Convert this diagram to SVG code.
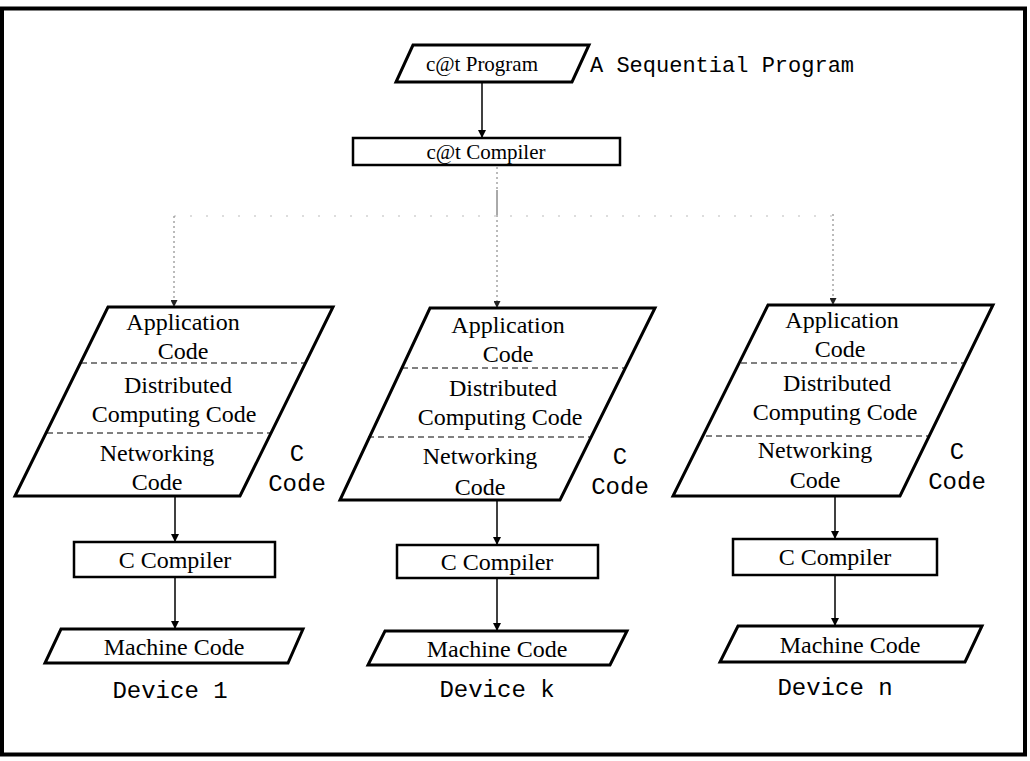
<svg xmlns="http://www.w3.org/2000/svg" width="1030" height="761" viewBox="0 0 1030 761">
  <defs>
    <marker id="arrow" viewBox="0 0 10 10" refX="10" refY="5" markerWidth="8" markerHeight="8" markerUnits="userSpaceOnUse" orient="auto">
      <path d="M0,0 L10,5 L0,10 z" fill="#000"/>
    </marker>
    <marker id="arrowSmall" viewBox="0 0 10 10" refX="10" refY="5" markerWidth="7" markerHeight="7" markerUnits="userSpaceOnUse" orient="auto">
      <path d="M0,0 L10,5 L0,10 z" fill="#222"/>
    </marker>
  </defs>
  <style>
    .frame { fill: none; stroke: #000; stroke-width: 4; }
    .shape { fill: #fff; stroke: #000; stroke-width: 3; stroke-linejoin: miter; }
    .box { fill: #fff; stroke: #000; stroke-width: 2.5; }
    .sep { stroke: #000; stroke-width: 1; stroke-dasharray: 6 4; fill: none; }
    .serif { font-family: "Liberation Serif", "Times New Roman", serif; font-size: 24px; fill: #000; text-anchor: middle; }
    .serif-sm { font-family: "Liberation Serif", "Times New Roman", serif; font-size: 21px; fill: #000; text-anchor: middle; }
    .mono { font-family: "Liberation Mono", "Courier New", monospace; font-size: 24px; fill: #000; }
    .mono-md { font-family: "Liberation Mono", "Courier New", monospace; font-size: 22px; fill: #000; }
    .flow { stroke: #000; stroke-width: 1.5; fill: none; marker-end: url(#arrow); }
    .fan { stroke: #777; stroke-width: 1; stroke-dasharray: 2 3; fill: none; }
    .fan-arrow { stroke: #777; stroke-width: 1; stroke-dasharray: 2 3; fill: none; marker-end: url(#arrowSmall); }
    .fan-faint { stroke: #bbb; stroke-width: 1; stroke-dasharray: 2 14; fill: none; }
  </style>

  <!-- outer frame -->
  <rect class="frame" x="2" y="8.5" width="1023" height="746"/>

  <!-- connectors -->
  <g id="connectors">
    <line class="flow" x1="482" y1="82" x2="482" y2="138"/>
    <!-- fan-out from the c@t compiler to each device -->
    <line class="fan" x1="497" y1="167" x2="497" y2="190"/>
    <line x1="497" y1="190" x2="497" y2="215" stroke="#555" stroke-width="1"/>
    <line class="fan-faint" x1="174" y1="216" x2="833" y2="216"/>
    <line class="fan-arrow" x1="497" y1="215" x2="497" y2="308"/>
    <line class="fan-arrow" x1="174" y1="216" x2="174" y2="307"/>
    <line class="fan-arrow" x1="833" y1="214" x2="833" y2="305"/>
    <!-- device 1 -->
    <line class="flow" x1="175" y1="497" x2="175" y2="542"/>
    <line class="flow" x1="175" y1="577" x2="175" y2="629"/>
    <!-- device k -->
    <line class="flow" x1="497" y1="500" x2="497" y2="545"/>
    <line class="flow" x1="497" y1="578" x2="497" y2="631"/>
    <!-- device n -->
    <line class="flow" x1="835" y1="497" x2="835" y2="539"/>
    <line class="flow" x1="835" y1="575" x2="835" y2="626"/>
  </g>

  <!-- source program -->
  <g id="cat-program">
    <polygon class="shape" points="413,45 589,45 572,82 396,82"/>
    <text class="serif-sm" x="482" y="71">c@t Program</text>
    <text class="mono-md" x="590" y="72" text-anchor="start">A Sequential Program</text>
  </g>

  <g id="cat-compiler">
    <rect class="box" x="353" y="138" width="267" height="27"/>
    <text class="serif-sm" x="486" y="159">c@t Compiler</text>
  </g>

  <!-- Device 1 -->
  <g id="device1-code">
    <polygon class="shape" points="108,307 333,307 240,496 15,496"/>
    <line class="sep" x1="81" y1="363" x2="305" y2="363"/>
    <line class="sep" x1="47" y1="433" x2="271" y2="433"/>
    <text class="serif" x="183" y="330">Application</text>
    <text class="serif" x="183" y="359">Code</text>
    <text class="serif" x="178" y="393">Distributed</text>
    <text class="serif" x="174" y="422">Computing Code</text>
    <text class="serif" x="157" y="461">Networking</text>
    <text class="serif" x="157" y="490">Code</text>
    <text class="mono" x="297" y="461" text-anchor="middle">C</text>
    <text class="mono" x="297" y="491" text-anchor="middle">Code</text>
  </g>
  <g id="device1-compiler">
    <rect class="box" x="74" y="542" width="201" height="35"/>
    <text class="serif" x="175" y="568">C Compiler</text>
  </g>
  <g id="device1-machine">
    <polygon class="shape" points="61,629 303,629 288,663 45,663"/>
    <text class="serif" x="174" y="655">Machine Code</text>
    <text class="mono" x="170" y="698" text-anchor="middle">Device 1</text>
  </g>

  <!-- Device k -->
  <g id="devicek-code">
    <polygon class="shape" points="430,308 655,308 560,500 340,500"/>
    <line class="sep" x1="402" y1="368" x2="626" y2="368"/>
    <line class="sep" x1="368" y1="437" x2="591" y2="437"/>
    <text class="serif" x="508" y="333">Application</text>
    <text class="serif" x="508" y="362">Code</text>
    <text class="serif" x="503" y="396">Distributed</text>
    <text class="serif" x="500" y="425">Computing Code</text>
    <text class="serif" x="480" y="464">Networking</text>
    <text class="serif" x="480" y="495">Code</text>
    <text class="mono" x="620" y="464" text-anchor="middle">C</text>
    <text class="mono" x="620" y="494" text-anchor="middle">Code</text>
  </g>
  <g id="devicek-compiler">
    <rect class="box" x="397" y="545" width="201" height="33"/>
    <text class="serif" x="497" y="570">C Compiler</text>
  </g>
  <g id="devicek-machine">
    <polygon class="shape" points="385,631 627,631 610,665 368,665"/>
    <text class="serif" x="497" y="657">Machine Code</text>
    <text class="mono" x="497" y="697" text-anchor="middle">Device k</text>
  </g>

  <!-- Device n -->
  <g id="devicen-code">
    <polygon class="shape" points="768,305 993,305 900,496 673,496"/>
    <line class="sep" x1="741" y1="363" x2="965" y2="363"/>
    <line class="sep" x1="706" y1="436" x2="930" y2="436"/>
    <text class="serif" x="842" y="328">Application</text>
    <text class="serif" x="840" y="357">Code</text>
    <text class="serif" x="837" y="391">Distributed</text>
    <text class="serif" x="835" y="420">Computing Code</text>
    <text class="serif" x="815" y="458">Networking</text>
    <text class="serif" x="815" y="488">Code</text>
    <text class="mono" x="957" y="459" text-anchor="middle">C</text>
    <text class="mono" x="957" y="489" text-anchor="middle">Code</text>
  </g>
  <g id="devicen-compiler">
    <rect class="box" x="733" y="539" width="204" height="36"/>
    <text class="serif" x="835" y="565">C Compiler</text>
  </g>
  <g id="devicen-machine">
    <polygon class="shape" points="738,626 982,626 965,662 720,662"/>
    <text class="serif" x="850" y="653">Machine Code</text>
    <text class="mono" x="835" y="695" text-anchor="middle">Device n</text>
  </g>
</svg>
